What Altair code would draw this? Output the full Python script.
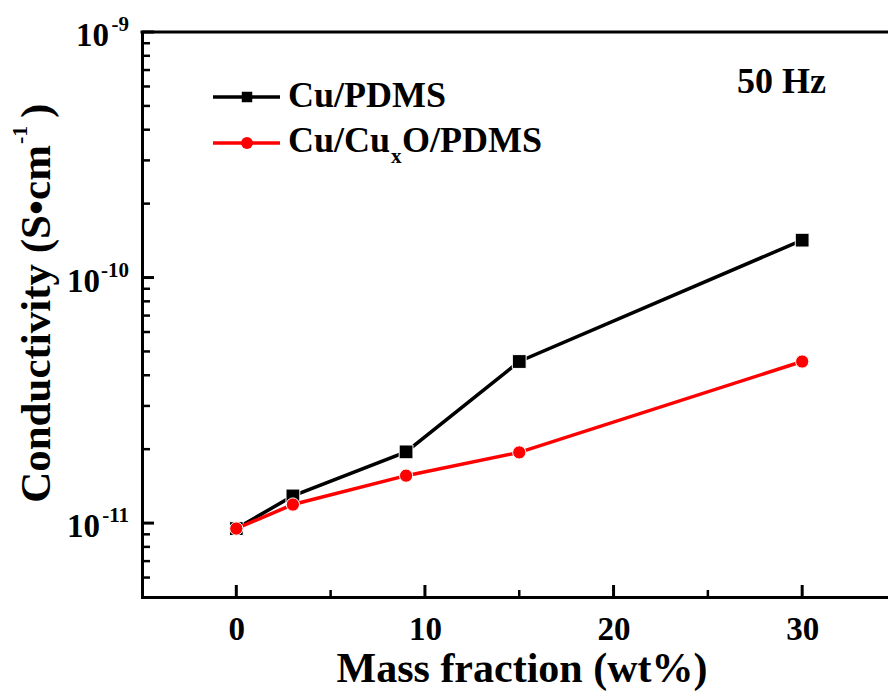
import altair as alt
import pandas as pd

# ---------------- data ----------------
mass_fraction = [0, 3, 9, 15, 30]
cu_pdms = [9.5e-12, 1.29e-11, 1.95e-11, 4.55e-11, 1.42e-10]
cu_cuxo_pdms = [9.5e-12, 1.19e-11, 1.56e-11, 1.94e-11, 4.55e-11]

x_major_ticks = [0, 10, 20, 30]
x_minor_ticks = [5, 15, 25]
y_major_ticks = [1e-11, 1e-10, 1e-9]
y_exponents = ["-11", "-10", "-9"]
y_minor_ticks = [6e-12, 7e-12, 8e-12, 9e-12,
                 2e-11, 3e-11, 4e-11, 5e-11, 6e-11, 7e-11, 8e-11, 9e-11,
                 2e-10, 3e-10, 4e-10, 5e-10, 6e-10, 7e-10, 8e-10, 9e-10]

FONT = "Liberation Serif"
W, H = 746, 565

df_cu = pd.DataFrame({"x": mass_fraction, "y": cu_pdms})
df_cuo = pd.DataFrame({"x": mass_fraction, "y": cu_cuxo_pdms})
one = pd.DataFrame({"a": [0]})

xscale = alt.Scale(domain=[-5, 34.55], nice=False, zero=False)
yscale = alt.Scale(type="log", domain=[5e-12, 1e-9], nice=False)

x_axis = alt.Axis(values=x_major_ticks, ticks=False, tickSize=0, labelPadding=16,
                  labelFont=FONT, labelFontSize=33, labelFontWeight="bold",
                  labelColor="black", domainColor="black", domainWidth=3,
                  grid=False, title=None, labelFlush=False)
y_axis = alt.Axis(labels=False, ticks=False, tickSize=0, grid=False,
                  domainColor="black", domainWidth=3, title=None)

X = alt.X("x:Q", scale=xscale, axis=x_axis)
Y = alt.Y("y:Q", scale=yscale, axis=y_axis)

# series
line_cu = alt.Chart(df_cu).mark_line(color="black", strokeWidth=3.5).encode(x=X, y=Y)
pts_cu = alt.Chart(df_cu).mark_point(shape="square", filled=True, color="black",
                                     size=190, opacity=1, stroke="white",
                                     strokeWidth=1).encode(x=X, y=Y)
line_cuo = alt.Chart(df_cuo).mark_line(color="#ff0000", strokeWidth=3.5).encode(x=X, y=Y)
pts_cuo = alt.Chart(df_cuo).mark_point(shape="circle", filled=True, color="#ff0000",
                                       size=175, opacity=1, stroke="white",
                                       strokeWidth=1).encode(x=X, y=Y)

# inward ticks
ymaj = alt.Chart(pd.DataFrame({"y": y_major_ticks})).mark_rule(
    color="black", strokeWidth=3).encode(y=Y, x=alt.value(0), x2=alt.value(12))
ymin = alt.Chart(pd.DataFrame({"y": y_minor_ticks})).mark_rule(
    color="black", strokeWidth=2.5).encode(y=Y, x=alt.value(0), x2=alt.value(8))
xmaj = alt.Chart(pd.DataFrame({"x": x_major_ticks})).mark_rule(
    color="black", strokeWidth=3).encode(x=X, y=alt.value(H), y2=alt.value(H - 12))
xmin = alt.Chart(pd.DataFrame({"x": x_minor_ticks})).mark_rule(
    color="black", strokeWidth=2.5).encode(x=X, y=alt.value(H), y2=alt.value(H - 7))
top_border = alt.Chart(one).mark_rule(color="black", strokeWidth=3, strokeCap="square").encode(
    x=alt.value(0), x2=alt.value(W + 5), y=alt.value(0))

# y tick labels (10 with superscript exponent)
ylab_df = pd.DataFrame({"y": y_major_ticks, "exp": y_exponents})
base_txt = dict(font=FONT, fontWeight="bold", color="black", baseline="alphabetic")
ten_long = alt.Chart(ylab_df).transform_filter("length(datum.exp) == 3").mark_text(
    align="right", dy=14, fontSize=33, **base_txt).encode(
    y=Y, x=alt.value(-42), text=alt.value("10"))
ten_short = alt.Chart(ylab_df).transform_filter("length(datum.exp) == 2").mark_text(
    align="right", dy=14, fontSize=33, **base_txt).encode(
    y=Y, x=alt.value(-33), text=alt.value("10"))
exps = alt.Chart(ylab_df).mark_text(align="right", dy=-1, fontSize=21, **base_txt).encode(
    y=Y, x=alt.value(-13), text="exp:N")

# axis titles
xtitle = alt.Chart(one).mark_text(align="center", fontSize=42, **base_txt).encode(
    x=alt.value(380), y=alt.value(650), text=alt.value("Mass fraction (wt%)"))
ytitle_main = alt.Chart(one).mark_text(align="right", angle=270, fontSize=43, **base_txt).encode(
    x=alt.value(-92), y=alt.value(113), text=alt.value("Conductivity (S•cm"))
ytitle_sup = alt.Chart(one).mark_text(align="left", angle=270, fontSize=22, **base_txt).encode(
    x=alt.value(-115), y=alt.value(112), text=alt.value("-1"))
ytitle_close = alt.Chart(one).mark_text(align="left", angle=270, fontSize=43, **base_txt).encode(
    x=alt.value(-92), y=alt.value(86), text=alt.value(")"))

# legend
leg_line1 = alt.Chart(one).mark_rule(color="black", strokeWidth=3.5).encode(
    x=alt.value(71), x2=alt.value(138), y=alt.value(65))
leg_pt1 = alt.Chart(one).mark_point(shape="square", filled=True, color="black", size=110,
                                    opacity=1).encode(x=alt.value(105), y=alt.value(65))
leg_txt1 = alt.Chart(one).mark_text(align="left", fontSize=36, **base_txt).encode(
    x=alt.value(146), y=alt.value(75), text=alt.value("Cu/PDMS"))
leg_line2 = alt.Chart(one).mark_rule(color="#ff0000", strokeWidth=3.5).encode(
    x=alt.value(71), x2=alt.value(138), y=alt.value(111))
leg_pt2 = alt.Chart(one).mark_point(shape="circle", filled=True, color="#ff0000", size=140,
                                    opacity=1).encode(x=alt.value(105), y=alt.value(111))
leg_txt2a = alt.Chart(one).mark_text(align="left", fontSize=36, **base_txt).encode(
    x=alt.value(146), y=alt.value(120), text=alt.value("Cu/Cu"))
leg_txt2b = alt.Chart(one).mark_text(align="left", fontSize=21, **base_txt).encode(
    x=alt.value(249), y=alt.value(131), text=alt.value("x"))
leg_txt2c = alt.Chart(one).mark_text(align="left", fontSize=36, **base_txt).encode(
    x=alt.value(260), y=alt.value(120), text=alt.value("O/PDMS"))

freq = alt.Chart(one).mark_text(align="left", fontSize=36, **base_txt).encode(
    x=alt.value(595), y=alt.value(61), text=alt.value("50 Hz"))

chart = alt.layer(
    line_cu, pts_cu, line_cuo, pts_cuo,
    ymaj, ymin, xmaj, xmin, top_border,
    ten_long, ten_short, exps,
    xtitle, ytitle_main, ytitle_sup, ytitle_close,
    leg_line1, leg_pt1, leg_txt1, leg_line2, leg_pt2, leg_txt2a, leg_txt2b, leg_txt2c,
    freq,
).properties(
    width=W, height=H,
    autosize=alt.AutoSizeParams(type="none"),
    padding={"left": 142, "top": 32, "right": 0, "bottom": 94},
    background="white",
).configure_view(stroke=None).configure_axis(domainCap="square")

chart.save("out.html", embed_options={"renderer": "svg", "actions": False})
